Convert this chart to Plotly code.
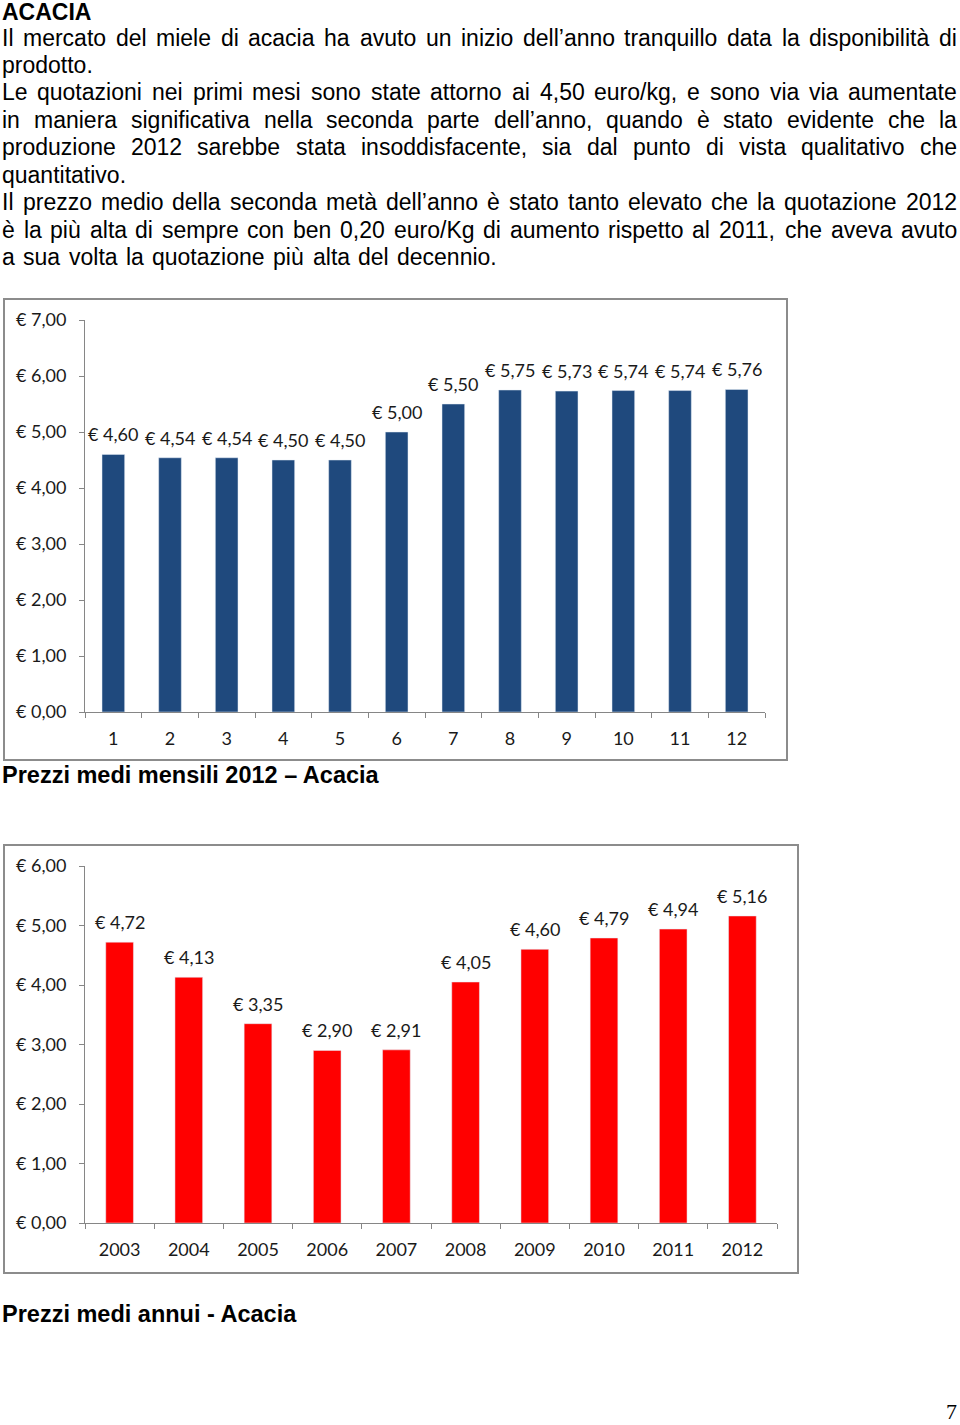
import plotly.graph_objects as go

# ---------------- data ----------------
months = ["1", "2", "3", "4", "5", "6", "7", "8", "9", "10", "11", "12"]
monthly_prices = [4.60, 4.54, 4.54, 4.50, 4.50, 5.00, 5.50, 5.75, 5.73, 5.74, 5.74, 5.76]
monthly_ticks = [0, 1, 2, 3, 4, 5, 6, 7]

years = ["2003", "2004", "2005", "2006", "2007", "2008", "2009", "2010", "2011", "2012"]
annual_prices = [4.72, 4.13, 3.35, 2.90, 2.91, 4.05, 4.60, 4.79, 4.94, 5.16]
annual_ticks = [0, 1, 2, 3, 4, 5, 6]

title_text = "ACACIA"
# (line, right edge in px for word spreading, or None for plain left-aligned)
body_lines = [
    ("Il mercato del miele di acacia ha avuto un inizio dell\u2019anno tranquillo data la disponibilit\u00e0 di", 957),
    ("prodotto.", None),
    ("Le quotazioni nei primi mesi sono state attorno ai 4,50 euro/kg, e sono via via aumentate", 957),
    ("in maniera significativa nella seconda parte dell\u2019anno, quando \u00e8 stato evidente che la", 957),
    ("produzione 2012 sarebbe stata insoddisfacente, sia dal punto di vista qualitativo che", 957),
    ("quantitativo.", None),
    ("Il prezzo medio della seconda met\u00e0 dell\u2019anno \u00e8 stato tanto elevato che la quotazione 2012", 957),
    ("\u00e8 la pi\u00f9 alta di sempre con ben 0,20 euro/Kg di aumento rispetto al 2011, che aveva avuto", 957),
    ("a sua volta la quotazione pi\u00f9 alta del decennio.", 497),
]
caption1 = "Prezzi medi mensili 2012 \u2013 Acacia"
caption2 = "Prezzi medi annui - Acacia"
page_number = "7"


def euro(v):
    return "\u20ac " + f"{v:.2f}".replace(".", ",")


W, H = 960, 1425
def px(x):
    return x / W
def py(y):
    return 1 - y / H

BODY_FONT = "Liberation Sans, Arial, sans-serif"
CHART_FONT = "Lato, Carlito, Calibri, sans-serif"
BODY_SIZE = 23
CHART_SIZE = 18
GRAY = "#868686"
LABEL_COLOR = "#1a1a1a"

# Helvetica/Arial metrics (per 1000 em)
MET = {' ': 278, ',': 278, '-': 333, '.': 278, '/': 278, '\u2019': 222,
       'A': 667, 'C': 722, 'I': 278, 'K': 667, 'L': 556,
       'a': 556, 'b': 556, 'c': 500, 'd': 556, 'e': 556, 'f': 278, 'g': 556, 'h': 556,
       'i': 222, 'j': 222, 'k': 500, 'l': 222, 'm': 833, 'n': 556, 'o': 556, 'p': 556,
       'q': 556, 'r': 333, 's': 500, 't': 278, 'u': 556, 'v': 500, 'w': 722, 'x': 500,
       'y': 500, 'z': 500, '\u00e0': 556, '\u00e8': 556, '\u00f9': 556}
for d in "0123456789":
    MET[d] = 556

def text_w(s, size):
    return sum(MET.get(ch, 556) for ch in s) * size / 1000.0

fig = go.Figure()

fig.add_trace(go.Bar(x=months, y=monthly_prices, marker_color="#1F497D",
                     xaxis="x", yaxis="y", hoverinfo="skip", showlegend=False))
fig.add_trace(go.Bar(x=years, y=annual_prices, marker_color="#FF0000",
                     xaxis="x2", yaxis="y2", hoverinfo="skip", showlegend=False))

annotations = []
# value labels (category axes take serial index positions)
for i, v in enumerate(monthly_prices):
    annotations.append(dict(x=i, y=v, xref="x", yref="y", text=euro(v), showarrow=False,
                            yanchor="middle", yshift=20,
                            font=dict(family=CHART_FONT, size=CHART_SIZE, color=LABEL_COLOR)))
for i, v in enumerate(annual_prices):
    annotations.append(dict(x=i, y=v, xref="x2", yref="y2", text=euro(v), showarrow=False,
                            yanchor="middle", yshift=20,
                            font=dict(family=CHART_FONT, size=CHART_SIZE, color=LABEL_COLOR)))

# page text (annotation boxes add ~2px padding on the left)
PAD = 2
annotations.append(dict(x=px(2 - PAD), y=py(12), xref="paper", yref="paper", text="<b>" + title_text + "</b>",
                        showarrow=False, xanchor="left", yanchor="middle",
                        font=dict(family=BODY_FONT, size=BODY_SIZE, color="black")))
line_y = [38, 65, 92, 120, 147, 175, 202, 230, 257]
LEFT = 2
for (line, right), yy in zip(body_lines, line_y):
    if right is None:
        annotations.append(dict(x=px(LEFT - PAD), y=py(yy), xref="paper", yref="paper", text=line,
                                showarrow=False, xanchor="left", yanchor="middle",
                                font=dict(family=BODY_FONT, size=BODY_SIZE, color="black")))
    else:
        words = line.split(" ")
        widths = [text_w(w, BODY_SIZE) for w in words]
        gap = (right - LEFT - sum(widths)) / (len(words) - 1)
        xcur = LEFT
        for w, wd in zip(words, widths):
            annotations.append(dict(x=px(xcur - PAD), y=py(yy), xref="paper", yref="paper", text=w,
                                    showarrow=False, xanchor="left", yanchor="middle",
                                    font=dict(family=BODY_FONT, size=BODY_SIZE, color="black")))
            xcur += wd + gap

annotations.append(dict(x=px(2 - PAD), y=py(775), xref="paper", yref="paper", text="<b>" + caption1 + "</b>",
                        showarrow=False, xanchor="left", yanchor="middle",
                        font=dict(family=BODY_FONT, size=23.5, color="black")))
annotations.append(dict(x=px(2 - PAD), y=py(1314), xref="paper", yref="paper", text="<b>" + caption2 + "</b>",
                        showarrow=False, xanchor="left", yanchor="middle",
                        font=dict(family=BODY_FONT, size=23.5, color="black")))
annotations.append(dict(x=px(959), y=py(1411), xref="paper", yref="paper", text=page_number,
                        showarrow=False, xanchor="right", yanchor="middle",
                        font=dict(family="Liberation Serif, Times New Roman, serif", size=22, color="black")))

shapes = [
    dict(type="rect", xref="paper", yref="paper", x0=px(4), x1=px(787), y0=py(760), y1=py(299),
         line=dict(color="#8c8c8c", width=2), fillcolor="rgba(0,0,0,0)", layer="below"),
    dict(type="rect", xref="paper", yref="paper", x0=px(4), x1=px(798), y0=py(1273), y1=py(845),
         line=dict(color="#8c8c8c", width=2), fillcolor="rgba(0,0,0,0)", layer="below"),
]

xcommon = dict(type="category", showline=True, linecolor=GRAY, linewidth=1, ticks="outside",
               tickson="boundaries", ticklen=5, tickcolor=GRAY, showgrid=False, zeroline=False,
               tickfont=dict(family=CHART_FONT, size=CHART_SIZE, color=LABEL_COLOR), fixedrange=True,
               ticklabelstandoff=10, automargin=False)
ycommon = dict(showline=True, linecolor=GRAY, linewidth=1, ticks="outside", ticklen=5,
               tickcolor=GRAY, showgrid=False, zeroline=False,
               tickfont=dict(family=CHART_FONT, size=CHART_SIZE, color=LABEL_COLOR), fixedrange=True,
               ticklabelstandoff=9, automargin=False)

fig.update_layout(
    width=W, height=H, margin=dict(l=0, r=0, t=0, b=0, pad=0, autoexpand=False),
    paper_bgcolor="white", plot_bgcolor="white",
    bargap=0.6, showlegend=False,
    xaxis=dict(domain=[px(85), px(765)], anchor="y", range=[-0.5, len(months) - 0.5], **xcommon),
    yaxis=dict(domain=[py(712), py(320)], anchor="x", range=[0, 7],
               tickvals=monthly_ticks, ticktext=[euro(t) for t in monthly_ticks], **ycommon),
    xaxis2=dict(domain=[px(85), px(777)], anchor="y2", range=[-0.5, len(years) - 0.5], **xcommon),
    yaxis2=dict(domain=[py(1223), py(866)], anchor="x2", range=[0, 6],
                tickvals=annual_ticks, ticktext=[euro(t) for t in annual_ticks], **ycommon),
    annotations=annotations, shapes=shapes,
)

post = (
    "document.body.style.margin='0';document.body.style.padding='0';document.body.style.overflow='hidden';"
)
fig.write_html("out.html", post_script=post)
